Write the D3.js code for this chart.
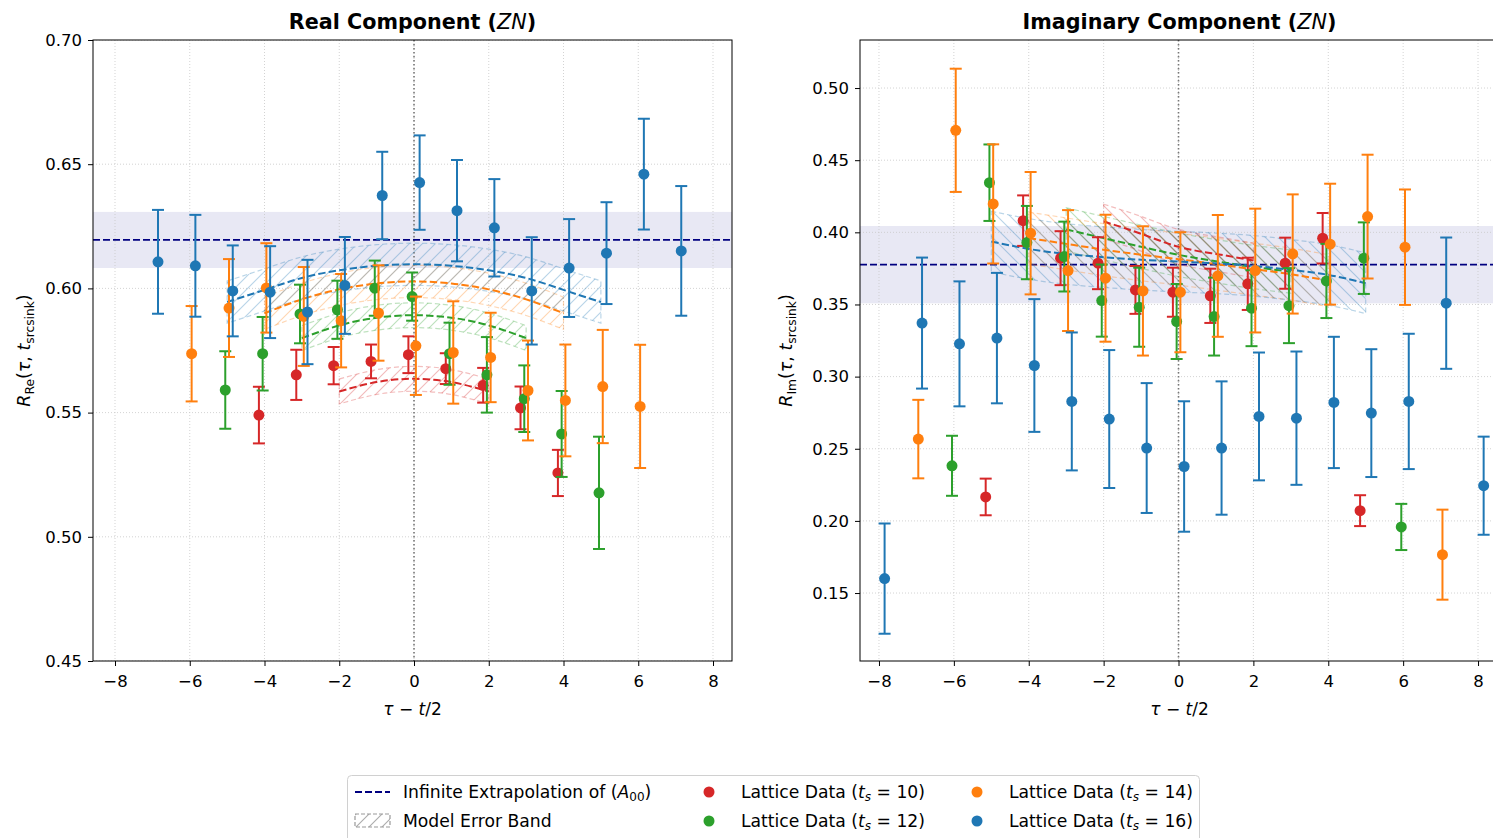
<!DOCTYPE html>
<html>
<head>
<meta charset="utf-8">
<title>ZN ratio fits</title>
<script src="https://cdn.jsdelivr.net/npm/d3@7"></script>
<style>
  body { margin: 0; background: #fff; }
  svg { display: block; font-family: "DejaVu Sans", sans-serif; }
</style>
</head>
<body>
<svg id="chart" width="1493" height="838"></svg>
<script>
// ---- lattice data, real part ----
const tauRe10 = [-4, -3, -2, -1, 0, 1, 2, 3, 4];
const re10 = [0.549, 0.5652, 0.5689, 0.5706, 0.5733, 0.5677, 0.561, 0.5519, 0.5257];
const re10Err = [0.0114, 0.0101, 0.0075, 0.0068, 0.0074, 0.0062, 0.007, 0.0086, 0.0093];

const tauRe12 = [-5, -4, -3, -2, -1, 0, 1, 2, 3, 4, 5];
const re12 = [0.5591, 0.5737, 0.5897, 0.5914, 0.6001, 0.5967, 0.5737, 0.5652, 0.5556, 0.5414, 0.5177];
const re12Err = [0.0156, 0.0148, 0.0118, 0.0117, 0.0111, 0.0097, 0.0125, 0.0152, 0.0134, 0.0173, 0.0226];

const tauRe14 = [-6, -5, -4, -3, -2, -1, 0, 1, 2, 3, 4, 5, 6];
const re14 = [0.5737, 0.5921, 0.6002, 0.5887, 0.587, 0.5901, 0.5769, 0.5742, 0.5722, 0.5589, 0.5549, 0.5605, 0.5525];
const re14Err = [0.0192, 0.0197, 0.018, 0.0199, 0.0188, 0.0192, 0.0198, 0.0206, 0.018, 0.0201, 0.0225, 0.0228, 0.0248];

const tauRe16 = [-7, -6, -5, -4, -3, -2, -1, 0, 1, 2, 3, 4, 5, 6, 7];
const re16 = [0.6107, 0.6091, 0.599, 0.5985, 0.5905, 0.6012, 0.6374, 0.6426, 0.6313, 0.6244, 0.599, 0.6082, 0.6142, 0.646, 0.6151];
const re16Err = [0.0209, 0.0205, 0.0183, 0.0185, 0.021, 0.0195, 0.0176, 0.019, 0.0204, 0.0196, 0.0216, 0.0197, 0.0205, 0.0223, 0.0261];

// ---- lattice data, imaginary part ----
const tauIm10 = [-5, -4, -3, -2, -1, 0, 1, 2, 3, 4, 5];
const im10 = [0.2166, 0.4081, 0.3821, 0.3786, 0.3601, 0.3585, 0.356, 0.3643, 0.3786, 0.3959, 0.2071];
const im10Err = [0.0127, 0.0175, 0.0187, 0.018, 0.0166, 0.017, 0.0188, 0.0181, 0.0177, 0.0175, 0.0107];

const tauIm12 = [-6, -5, -4, -3, -2, -1, 0, 1, 2, 3, 4, 5, 6];
const im12 = [0.2382, 0.4344, 0.3929, 0.3832, 0.3527, 0.3481, 0.3382, 0.3416, 0.3474, 0.3492, 0.3663, 0.3821, 0.1958];
const im12Err = [0.0208, 0.0265, 0.0254, 0.0242, 0.025, 0.0274, 0.026, 0.027, 0.0263, 0.026, 0.0257, 0.0248, 0.016];

const tauIm14 = [-7, -6, -5, -4, -3, -2, -1, 0, 1, 2, 3, 4, 5, 6, 7];
const im14 = [0.2567, 0.4707, 0.4197, 0.3994, 0.3735, 0.3682, 0.3594, 0.3585, 0.3698, 0.3735, 0.385, 0.3918, 0.4109, 0.3897, 0.1766];
const im14Err = [0.0272, 0.0427, 0.0413, 0.0424, 0.0419, 0.044, 0.0448, 0.0416, 0.0422, 0.0429, 0.0413, 0.0419, 0.0429, 0.04, 0.0312];

const tauIm16 = [-8, -7, -6, -5, -4, -3, -2, -1, 0, 1, 2, 3, 4, 5, 6, 7, 8];
const im16 = [0.16, 0.3371, 0.3227, 0.3267, 0.3077, 0.2828, 0.2706, 0.2505, 0.2377, 0.2505, 0.2724, 0.2712, 0.2821, 0.2747, 0.2828, 0.3509, 0.2244];
const im16Err = [0.0382, 0.0454, 0.0433, 0.0452, 0.046, 0.0478, 0.0478, 0.045, 0.0452, 0.0462, 0.0443, 0.0462, 0.0455, 0.0443, 0.0469, 0.0455, 0.034];

// ---- model curves (read at integer tau) ----
const tauM10 = [-2, -1, 0, 1, 2];
const tauM12 = [-3, -2, -1, 0, 1, 2, 3];
const tauM14 = [-4, -3, -2, -1, 0, 1, 2, 3, 4];
const tauM16 = [-5, -4, -3, -2, -1, 0, 1, 2, 3, 4, 5];

const reM10 = [0.5585, 0.5623, 0.5636, 0.5623, 0.5585];
const reM12 = [0.580, 0.5851, 0.5882, 0.5892, 0.5882, 0.5851, 0.580];
const reM14 = [0.590, 0.5956, 0.5996, 0.602, 0.6028, 0.602, 0.5996, 0.5956, 0.590];
const reM16 = [0.5945, 0.5994, 0.6042, 0.6073, 0.6091, 0.6097, 0.6091, 0.6073, 0.6042, 0.5994, 0.5945];
const reBand = [0.005, 0.005, 0.0065, 0.0085];

const imM10 = [0.4075, 0.399, 0.390, 0.385, 0.3805];
const imM12 = [0.402, 0.396, 0.390, 0.3844, 0.380, 0.376, 0.3728];
const imM14 = [0.396, 0.392, 0.388, 0.3845, 0.3814, 0.378, 0.3745, 0.371, 0.3665];
const imM16 = [0.3936, 0.3885, 0.385, 0.3828, 0.381, 0.3797, 0.3785, 0.3768, 0.374, 0.3705, 0.3647];
const imBand = [0.012, 0.015, 0.018, 0.021];

// infinite extrapolation (A00) with error
const a00Re = 0.6195, a00ReErr = 0.0113;
const a00Im = 0.3776, a00ImErr = 0.0268;

const sourceSink = [10, 12, 14, 16];
const xTicks = [-8, -6, -4, -2, 0, 2, 4, 6, 8];
const yTicksRe = [0.45, 0.50, 0.55, 0.60, 0.65, 0.70];
const yTicksIm = [0.15, 0.20, 0.25, 0.30, 0.35, 0.40, 0.45, 0.50];

// ---- style ----
const colors = ["#d62728", "#2ca02c", "#ff7f0e", "#1f77b4"];
const xShift = [-0.15, -0.05, 0.05, 0.15];
const plotTop = 40, panelW = 639, panelH = 621;

const svg = d3.select("#chart");
const defs = svg.append("defs");

function hatch(id, color, dir, opacity) {
  const p = defs.append("pattern").attr("id", id)
    .attr("patternUnits", "userSpaceOnUse").attr("width", 13).attr("height", 13);
  const d = dir === "/" ? "M-2,2 l4,-4 M0,13 l13,-13 M11,15 l4,-4"
                        : "M-2,11 l4,4 M0,0 l13,13 M11,-2 l4,4";
  p.append("path").attr("d", d).attr("stroke", color)
    .attr("stroke-opacity", opacity).attr("stroke-width", 1.1);
}

function pack(tau, val, err) {
  return tau.map((t, i) => ({t: t, v: val[i], e: err[i]}));
}

function drawPanel(cfg) {
  const g = svg.append("g").attr("transform", `translate(${cfg.left},${plotTop})`);
  const x = d3.scaleLinear().domain(cfg.xDomain).range([0, panelW]);
  const y = d3.scaleLinear().domain(cfg.yDomain).range([panelH, 0]);

  defs.append("clipPath").attr("id", "clip-" + cfg.id)
    .append("rect").attr("width", panelW).attr("height", panelH);
  const plot = g.append("g").attr("clip-path", `url(#clip-${cfg.id})`);

  // A00 band
  plot.append("rect")
    .attr("x", 0).attr("width", panelW)
    .attr("y", y(cfg.a00 + cfg.a00Err))
    .attr("height", y(cfg.a00 - cfg.a00Err) - y(cfg.a00 + cfg.a00Err))
    .attr("fill", "navy").attr("fill-opacity", 0.09);

  // grid
  plot.selectAll(".gx").data(xTicks).join("line")
    .attr("x1", d => x(d)).attr("x2", d => x(d))
    .attr("y1", 0).attr("y2", panelH)
    .attr("stroke", "#c8c8c8").attr("stroke-width", 0.8).attr("stroke-dasharray", "1,2");
  plot.selectAll(".gy").data(cfg.yTicks).join("line")
    .attr("x1", 0).attr("x2", panelW)
    .attr("y1", d => y(d)).attr("y2", d => y(d))
    .attr("stroke", "#c8c8c8").attr("stroke-width", 0.8).attr("stroke-dasharray", "1,2");

  // tau = t/2
  plot.append("line")
    .attr("x1", x(0)).attr("x2", x(0)).attr("y1", 0).attr("y2", panelH)
    .attr("stroke", "#777").attr("stroke-width", 1.6).attr("stroke-dasharray", "1.5,2.5");

  // infinite extrapolation
  plot.append("line")
    .attr("x1", 0).attr("x2", panelW).attr("y1", y(cfg.a00)).attr("y2", y(cfg.a00))
    .attr("stroke", "navy").attr("stroke-width", 1.8).attr("stroke-dasharray", "7,3");

  // model bands and curves
  const area = d3.area().curve(d3.curveNatural)
    .x(d => x(d.t)).y0(d => y(d.v - d.e)).y1(d => y(d.v + d.e));
  const line = d3.line().curve(d3.curveNatural).x(d => x(d.t)).y(d => y(d.v));

  cfg.models.forEach((m, k) => {
    const pts = m.tau.map((t, i) => ({t: t, v: m.val[i], e: cfg.band[k]}));
    const hid = `hatch-${cfg.id}-${k}`;
    hatch(hid, colors[k], cfg.hatchDir, 0.32);
    plot.append("path").attr("d", area(pts))
      .attr("fill", `url(#${hid})`)
      .attr("stroke", colors[k]).attr("stroke-opacity", 0.3)
      .attr("stroke-width", 1.2).attr("stroke-dasharray", "5,3");
  });
  cfg.models.forEach((m, k) => {
    const pts = m.tau.map((t, i) => ({t: t, v: m.val[i]}));
    plot.append("path").attr("d", line(pts))
      .attr("fill", "none").attr("stroke", colors[k])
      .attr("stroke-width", 2).attr("stroke-dasharray", "7.4,3.2");
  });

  // lattice data with error bars
  cfg.series.forEach((s, k) => {
    const sg = plot.append("g");
    const px = d => x(d.t + xShift[k]);
    sg.selectAll(".bar").data(s).join("line")
      .attr("x1", px).attr("x2", px)
      .attr("y1", d => y(d.v - d.e)).attr("y2", d => y(d.v + d.e))
      .attr("stroke", colors[k]).attr("stroke-width", 2);
    sg.selectAll(".capt").data(s).join("line")
      .attr("x1", d => px(d) - 6).attr("x2", d => px(d) + 6)
      .attr("y1", d => y(d.v + d.e)).attr("y2", d => y(d.v + d.e))
      .attr("stroke", colors[k]).attr("stroke-width", 2);
    sg.selectAll(".capb").data(s).join("line")
      .attr("x1", d => px(d) - 6).attr("x2", d => px(d) + 6)
      .attr("y1", d => y(d.v - d.e)).attr("y2", d => y(d.v - d.e))
      .attr("stroke", colors[k]).attr("stroke-width", 2);
    sg.selectAll("circle").data(s).join("circle")
      .attr("cx", px).attr("cy", d => y(d.v)).attr("r", 5.5)
      .attr("fill", colors[k]);
  });

  // axes
  const ax = g.append("g").attr("transform", `translate(0,${panelH})`)
    .call(d3.axisBottom(x).tickValues(xTicks).tickSize(5).tickPadding(9).tickSizeOuter(0));
  const ay = g.append("g")
    .call(d3.axisLeft(y).tickValues(cfg.yTicks).tickSize(5).tickPadding(6)
      .tickFormat(d3.format(".2f")).tickSizeOuter(0));
  [ax, ay].forEach(a => {
    a.select(".domain").remove();
    a.selectAll("text").attr("font-size", 16.5).attr("font-family", "DejaVu Sans").attr("fill", "#000");
    a.selectAll("line").attr("stroke", "#000");
  });
  g.append("rect").attr("width", panelW).attr("height", panelH)
    .attr("fill", "none").attr("stroke", "#000").attr("stroke-width", 1);

  // title
  const tt = g.append("text").attr("x", panelW / 2).attr("y", -11)
    .attr("text-anchor", "middle").attr("font-size", 20.7).attr("font-weight", "bold");
  tt.append("tspan").text(cfg.title + " (");
  tt.append("tspan").attr("font-style", "italic").attr("font-weight", "normal").text("ZN");
  tt.append("tspan").text(")");

  // x label
  const xl = g.append("text").attr("x", panelW / 2).attr("y", panelH + 54)
    .attr("text-anchor", "middle").attr("font-size", 17);
  xl.append("tspan").attr("font-style", "italic").text("τ");
  xl.append("tspan").text(" − ");
  xl.append("tspan").attr("font-style", "italic").text("t");
  xl.append("tspan").text("/2");

  // y label
  const yl = g.append("text")
    .attr("transform", `translate(${cfg.ylabelX},${panelH / 2}) rotate(-90)`)
    .attr("text-anchor", "middle").attr("font-size", 17.5);
  yl.append("tspan").attr("font-style", "italic").text("R");
  yl.append("tspan").attr("font-size", "0.7em").attr("dy", 4).text(cfg.sub);
  yl.append("tspan").attr("dy", -4).text("(");
  yl.append("tspan").attr("font-style", "italic").text("τ");
  yl.append("tspan").text(", ");
  yl.append("tspan").attr("font-style", "italic").text("t");
  yl.append("tspan").attr("font-size", "0.7em").attr("dy", 4).text("srcsink");
  yl.append("tspan").attr("dy", -4).text(")");
}

drawPanel({
  id: "re", left: 93, xDomain: [-8.589, 8.508], yDomain: [0.45, 0.70],
  yTicks: yTicksRe, a00: a00Re, a00Err: a00ReErr, hatchDir: "/",
  title: "Real Component", sub: "Re", ylabelX: -63, band: reBand,
  series: [pack(tauRe10, re10, re10Err), pack(tauRe12, re12, re12Err),
           pack(tauRe14, re14, re14Err), pack(tauRe16, re16, re16Err)],
  models: [{tau: tauM10, val: reM10}, {tau: tauM12, val: reM12},
           {tau: tauM14, val: reM14}, {tau: tauM16, val: reM16}]
});

drawPanel({
  id: "im", left: 860, xDomain: [-8.507, 8.56], yDomain: [0.1029, 0.5333],
  yTicks: yTicksIm, a00: a00Im, a00Err: a00ImErr, hatchDir: "\\",
  title: "Imaginary Component", sub: "Im", ylabelX: -68, band: imBand,
  series: [pack(tauIm10, im10, im10Err), pack(tauIm12, im12, im12Err),
           pack(tauIm14, im14, im14Err), pack(tauIm16, im16, im16Err)],
  models: [{tau: tauM10, val: imM10}, {tau: tauM12, val: imM12},
           {tau: tauM14, val: imM14}, {tau: tauM16, val: imM16}]
});

// ---- legend ----
const lg = svg.append("g").attr("font-size", 17.2);
lg.append("rect").attr("x", 347.5).attr("y", 775.5).attr("width", 852).attr("height", 80)
  .attr("rx", 4).attr("fill", "#fff").attr("stroke", "#d0d0d0");

lg.append("line").attr("x1", 355).attr("x2", 390).attr("y1", 792).attr("y2", 792)
  .attr("stroke", "navy").attr("stroke-width", 1.8).attr("stroke-dasharray", "7,3");
const l1 = lg.append("text").attr("x", 403).attr("y", 798);
l1.append("tspan").text("Infinite Extrapolation of (");
l1.append("tspan").attr("font-style", "italic").text("A");
l1.append("tspan").attr("font-size", "0.7em").attr("dy", 3).text("00");
l1.append("tspan").attr("dy", -3).text(")");

hatch("hatch-legend", "#888", "/", 0.7);
lg.append("rect").attr("x", 355).attr("y", 814).attr("width", 35).attr("height", 13)
  .attr("fill", "url(#hatch-legend)").attr("stroke", "#999")
  .attr("stroke-width", 1.2).attr("stroke-dasharray", "4,2");
lg.append("text").attr("x", 403).attr("y", 827).text("Model Error Band");

const legendPos = [[709, 792], [709, 821], [977, 792], [977, 821]];
sourceSink.forEach((ts, k) => {
  const [cx, cy] = legendPos[k];
  lg.append("circle").attr("cx", cx).attr("cy", cy).attr("r", 5.5).attr("fill", colors[k]);
  const t = lg.append("text").attr("x", cx + 32).attr("y", cy + 6);
  t.append("tspan").text("Lattice Data (");
  t.append("tspan").attr("font-style", "italic").text("t");
  t.append("tspan").attr("font-style", "italic").attr("font-size", "0.7em").attr("dy", 3).text("s");
  t.append("tspan").attr("dy", -3).text(" = " + ts + ")");
});
</script>
</body>
</html>
